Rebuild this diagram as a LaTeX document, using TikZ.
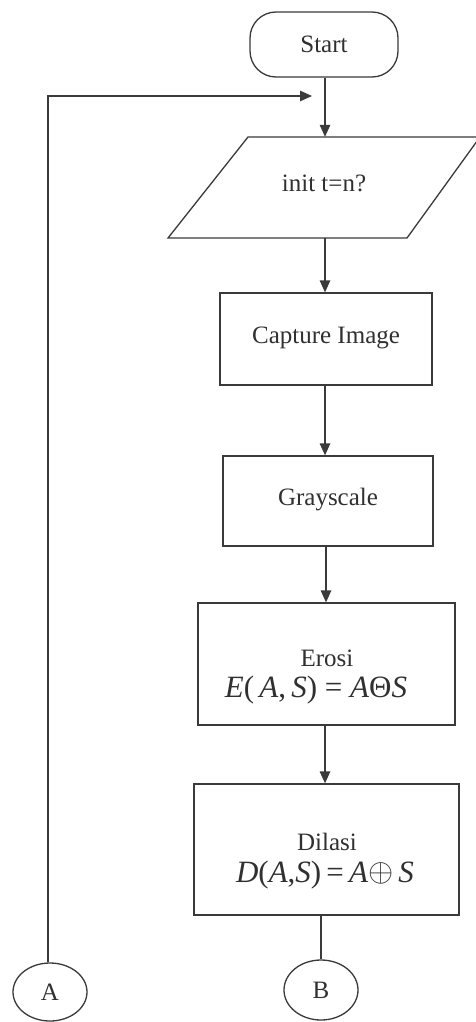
\documentclass[tikz,border=0pt]{standalone}
\usepackage{fontspec}
\usepackage{graphicx}
\setmainfont{Liberation Serif}
\usetikzlibrary{arrows.meta,shapes.geometric}
\definecolor{ink}{HTML}{3A3A3A}
\definecolor{txt}{HTML}{303030}
\begin{document}
\begin{tikzpicture}[x=1pt,y=-1pt,
  line/.style={draw=ink,line width=1.3pt},
  arr/.style={line,-{Triangle[length=12pt,width=10.5pt]}},
  lbl/.style={text=txt,font=\fontsize{25}{28}\selectfont,inner sep=0pt},
  frm/.style={text=txt,font=\fontsize{31}{34}\selectfont,inner sep=0pt},
  boxn/.style={line,fill=white,rectangle,inner sep=0pt},
  conn/.style={line,ellipse,inner sep=0pt,text=txt,font=\fontsize{25}{28}\selectfont}]
\useasboundingbox (0,0) rectangle (476,1022);
\fill[white] (0,0) rectangle (476,1022);
% Start
\node[boxn,rounded corners=26pt,minimum width=148pt,minimum height=65pt] (start) at (324,44.5) {};
\node[lbl] (startT) at (324,44) {Start};
% parallelogram
\node[inner sep=0pt,minimum width=150pt,minimum height=101pt] (init) at (325,187.5) {};
\draw[line] (248,137) -- (480,137) -- (407,238) -- (168,238) -- cycle;
\node[lbl] (initT) at (324,183) {init t=n?};
% boxes
\node[boxn,minimum width=212pt,minimum height=92pt] (cap) at (326,339) {};
\node[lbl] (capT) at (326,338) {Capture Image};
\node[boxn,minimum width=210pt,minimum height=90pt] (gray) at (328,501) {};
\node[lbl] (grayT) at (328,500) {Grayscale};
\node[boxn,minimum width=257pt,minimum height=122pt] (ero) at (326.5,664) {};
\node[lbl] (eroT) at (327,658) {Erosi};
\node[frm] (eroF) at (316,690) {\textit{E}(\,\textit{A},\,\textit{S}) = \textit{A}Θ\textit{S}};
\node[boxn,minimum width=265pt,minimum height=131pt] (dil) at (326.5,849.5) {};
\node[lbl] (dilT) at (327,842) {Dilasi};
\node[frm] (dilF) at (325,875) {\textit{D}(\textit{A},\textit{S})\,=\,\textit{A}\raisebox{0.03em}{\scalebox{1.3}{$\oplus$}}\,\textit{S}};
% connectors
\node[conn,minimum width=74pt,minimum height=58pt] (A) at (50,992) {A};
\node[conn,minimum width=74pt,minimum height=60pt] (B) at (321,990) {B};
\coordinate (loopC) at (48,96);
\coordinate (loopE) at (312,96);
% edges
\draw[arr] (start.south -| 325,0) -- (init.north -| 325,0);
\draw[arr] (A.north -| 48,0) -- (loopC) -- (loopE);
\draw[arr] (init.south -| 325,0) -- (cap.north -| 325,0);
\draw[arr] (cap.south -| 325,0) -- (gray.north -| 325,0);
\draw[arr] (gray.south -| 326,0) -- (ero.north -| 326,0);
\draw[arr] (ero.south -| 325,0) -- (dil.north -| 325,0);
\draw[line] (dil.south -| 321,0) -- (B.north);
\end{tikzpicture}
\end{document}
